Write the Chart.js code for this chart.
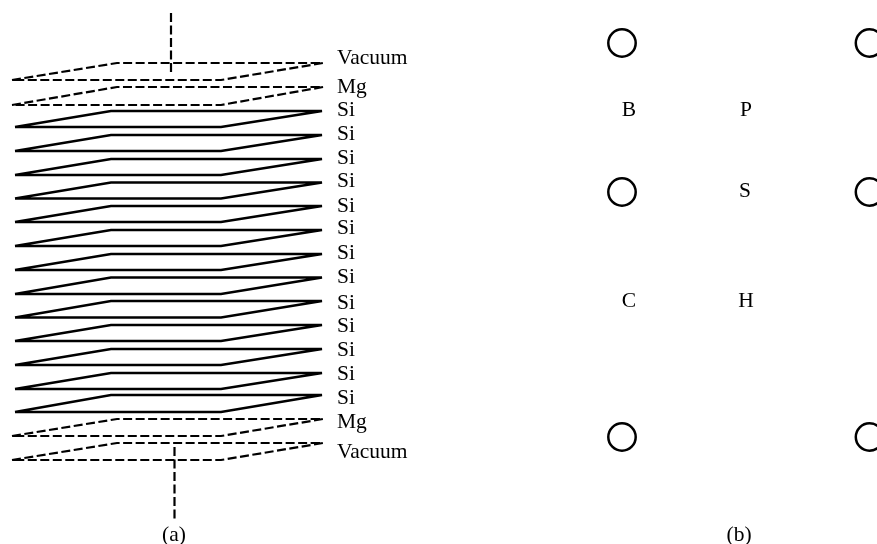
<!DOCTYPE html>
<html>
<head>
<meta charset="utf-8">
<script src="https://cdn.jsdelivr.net/npm/chart.js@4/dist/chart.umd.min.js"></script>
<style>
html, body { margin: 0; padding: 0; background: #fff; overflow: hidden; }
canvas { display: block; }
</style>
</head>
<body>
<canvas id="myChart" width="877" height="544"></canvas>
<script>
// layers, top to bottom
var layerNames = ['Vacuum', 'Mg', 'Si', 'Si', 'Si', 'Si', 'Si', 'Si', 'Si', 'Si', 'Si', 'Si', 'Si', 'Si', 'Si', 'Mg', 'Vacuum'];
var layerLabelY = [58, 87, 110, 134, 158, 181, 206, 228, 253, 277, 303, 326, 350, 374, 398, 422, 452];
var frontY = [80, 105, 127, 151, 175, 198.5, 222, 246, 270, 294, 317.5, 341, 365, 389, 412, 436, 460];
var backY = [63, 87, 111, 135, 159, 182.5, 206, 230, 254, 277.5, 301, 325, 349, 373, 395, 419, 443];
var dashedLayer = [true, true, false, false, false, false, false, false, false, false, false, false, false, false, false, true, true];

// plane corners: left, back left, back right, front right
var solidPlaneX = [15, 111, 322, 221];
var dashedPlaneX = [12, 117, 323, 221];

// z axis, above and below the stack
var axisTopX = [171, 171];
var axisTopY = [13, 74];
var axisBottomX = [174.5, 174.5];
var axisBottomY = [447, 522];

// atom circles of panel b
var atomX = [622, 622, 622, 869.5, 869.5, 869.5];
var atomY = [43, 192, 437, 43, 192, 437];

// site labels and captions
var siteNames = ['B', 'P', 'S', 'C', 'H'];
var siteX = [629, 746, 745, 629, 746];
var siteY = [110, 110, 191, 301, 301];
var captionNames = ['(a)', '(b)'];
var captionX = [174, 739];
var captionY = [535, 535];

var datasets = [];

for (var i = 0; i < layerNames.length; i++) {
    var xs = dashedLayer[i] ? dashedPlaneX : solidPlaneX;
    datasets.push({
        data: [
            {x: xs[0], y: frontY[i]},
            {x: xs[1], y: backY[i]},
            {x: xs[2], y: backY[i]},
            {x: xs[3], y: frontY[i]},
            {x: xs[0], y: frontY[i]}
        ],
        showLine: true,
        borderColor: '#000',
        borderWidth: dashedLayer[i] ? 2.2 : 2.4,
        borderDash: dashedLayer[i] ? [9, 3.5] : [],
        pointRadius: 0,
        tension: 0
    });
}

function axisLine(xs, ys) {
    return {
        data: [{x: xs[0], y: ys[0]}, {x: xs[1], y: ys[1]}],
        showLine: true,
        borderColor: '#000',
        borderWidth: 2.2,
        borderDash: [9, 3.5],
        pointRadius: 0
    };
}
datasets.push(axisLine(axisTopX, axisTopY));
datasets.push(axisLine(axisBottomX, axisBottomY));

var atoms = [];
for (var j = 0; j < atomX.length; j++) {
    atoms.push({x: atomX[j], y: atomY[j]});
}
datasets.push({
    data: atoms,
    showLine: false,
    pointStyle: 'circle',
    pointRadius: 13.7,
    pointBorderWidth: 2.5,
    pointBorderColor: '#000',
    pointBackgroundColor: 'rgba(0,0,0,0)'
});

// 文字はスケール経由で描く
var textPlugin = {
    id: 'textLabels',
    afterDraw: function(chart) {
        var ctx = chart.ctx;
        var sx = chart.scales.x;
        var sy = chart.scales.y;
        ctx.save();
        ctx.fillStyle = '#000';
        ctx.textBaseline = 'middle';
        ctx.font = '21.5px "Liberation Serif"';
        ctx.textAlign = 'left';
        for (var i = 0; i < layerNames.length; i++) {
            ctx.fillText(layerNames[i], sx.getPixelForValue(337), sy.getPixelForValue(layerLabelY[i]));
        }
        ctx.textAlign = 'center';
        for (var k = 0; k < siteNames.length; k++) {
            ctx.fillText(siteNames[k], sx.getPixelForValue(siteX[k]), sy.getPixelForValue(siteY[k]));
        }
        for (var c = 0; c < captionNames.length; c++) {
            ctx.fillText(captionNames[c], sx.getPixelForValue(captionX[c]), sy.getPixelForValue(captionY[c]));
        }
        ctx.restore();
    }
};

var myChart = new Chart(document.getElementById('myChart').getContext('2d'), {
    type: 'scatter',
    data: {datasets: datasets},
    options: {
        responsive: false,
        animation: false,
        layout: {padding: 0, autoPadding: false},
        plugins: {legend: {display: false}, tooltip: {enabled: false}},
        scales: {
            x: {type: 'linear', display: false, min: 0, max: 877},
            y: {type: 'linear', display: false, min: 0, max: 544, reverse: true}
        }
    },
    plugins: [textPlugin]
});
</script>
</body>
</html>
